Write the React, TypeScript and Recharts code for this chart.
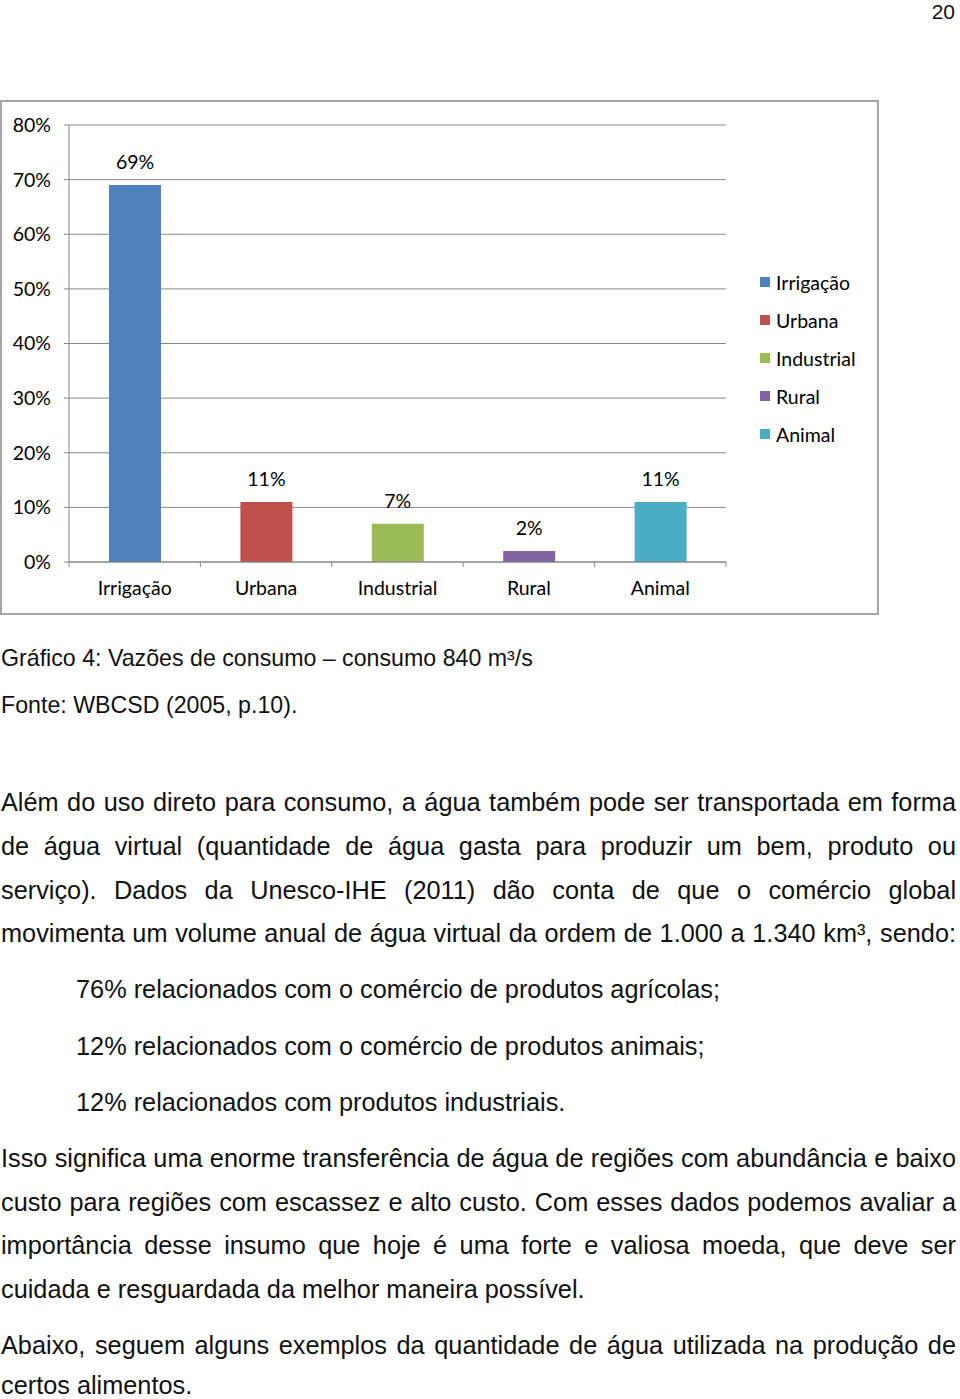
import React from 'react';
import { BarChart, Bar, XAxis, YAxis, CartesianGrid, Legend, LabelList, Cell } from 'recharts';

const categories = ['Irrigação', 'Urbana', 'Industrial', 'Rural', 'Animal'];
const shares = [69, 11, 7, 2, 11];
const colors = ['#4f81bd', '#c0504d', '#9bbb59', '#8064a2', '#4bacc6'];
const yTicks = [0, 10, 20, 30, 40, 50, 60, 70, 80];

const data = categories.map((name, i) => ({ name, value: shares[i] }));

const CHART_FONT = 'Lato, "Open Sans", sans-serif';
const TEXT_FONT = '"Liberation Sans", Arial, sans-serif';
const GRID = '#888888';
const STEP = 657 / categories.length;

const CategoryTick = (props: any) => {
  const { x, y, payload, index } = props;
  const left = x - STEP / 2;
  return (
    <g>
      <line x1={left} y1={y} x2={left} y2={y + 5} stroke={GRID} />
      {index === categories.length - 1 && (
        <line x1={x + STEP / 2} y1={y} x2={x + STEP / 2} y2={y + 5} stroke={GRID} />
      )}
      <text x={x} y={y + 33} textAnchor="middle" fill="#000" fontSize={19.5} fontFamily={CHART_FONT}>
        {payload.value}
      </text>
    </g>
  );
};

const renderLegend = () => (
  <div style={{ fontFamily: CHART_FONT, fontSize: 19.5, color: '#000' }}>
    {categories.map((c, i) => (
      <div key={c} style={{ height: 38, display: 'flex', alignItems: 'center' }}>
        <span style={{ width: 10, height: 10, background: colors[i], display: 'inline-block', marginRight: 6 }} />
        <span>{c}</span>
      </div>
    ))}
  </div>
);

type Line = { text: string; y: number; x?: number; size?: number; justify?: boolean };

const lines: Line[] = [
  { text: 'Gráfico 4: Vazões de consumo – consumo 840 m³/s', y: 658, size: 23.2 },
  { text: 'Fonte: WBCSD (2005, p.10).', y: 705, size: 23.2 },
  { text: 'Além do uso direto para consumo, a água também pode ser transportada em forma', y: 802, justify: true },
  { text: 'de água virtual (quantidade de água gasta para produzir um bem, produto ou', y: 846, justify: true },
  { text: 'serviço). Dados da Unesco-IHE (2011) dão conta de que o comércio global', y: 890, justify: true },
  { text: 'movimenta um volume anual de água virtual  da ordem de 1.000 a 1.340 km³, sendo:', y: 933, justify: true },
  { text: '76% relacionados com o comércio de produtos agrícolas;', y: 989, x: 76 },
  { text: '12% relacionados com o comércio de produtos animais;', y: 1046, x: 76 },
  { text: '12% relacionados com produtos industriais.', y: 1102, x: 76 },
  { text: 'Isso significa uma enorme transferência de água de regiões com abundância e baixo', y: 1158, justify: true },
  { text: 'custo para regiões com escassez e alto custo. Com esses dados podemos avaliar a', y: 1202, justify: true },
  { text: 'importância desse insumo que hoje é uma forte e valiosa moeda, que deve ser', y: 1245, justify: true },
  { text: 'cuidada e resguardada da melhor maneira possível.', y: 1289 },
  { text: 'Abaixo, seguem alguns exemplos da quantidade de água utilizada na produção de', y: 1345, justify: true },
  { text: 'certos alimentos.', y: 1385 },
];

export default function App() {
  return (
    <div style={{ position: 'absolute', left: 0, top: 0, width: 960, height: 1399, background: '#fff', overflow: 'hidden' }}>
      <div style={{ position: 'absolute', right: 5, top: 0, lineHeight: '24px', fontFamily: TEXT_FONT, fontSize: 21, color: '#111' }}>20</div>

      <div
        style={{
          position: 'absolute',
          left: 0,
          top: 100,
          width: 879,
          height: 515,
          border: '2px solid #a5a5a5',
          boxSizing: 'border-box',
        }}
      >
        <BarChart width={875} height={511} data={data} margin={{ top: 23, right: 151, left: 0, bottom: 0 }}>
          <CartesianGrid vertical={false} stroke={GRID} />
          <XAxis
            dataKey="name"
            height={51}
            interval={0}
            tickSize={0}
            tickMargin={0}
            tickLine={false}
            axisLine={{ stroke: GRID }}
            tick={<CategoryTick />}
          />
          <YAxis
            width={67}
            domain={[0, 80]}
            ticks={yTicks}
            interval={0}
            tickFormatter={(v: number) => `${v}%`}
            tickSize={5}
            tickMargin={13}
            axisLine={{ stroke: GRID }}
            tickLine={{ stroke: GRID }}
            tick={{ fill: '#000', fontSize: 19.5, fontFamily: CHART_FONT }}
          />
          <Legend
            layout="vertical"
            align="center"
            verticalAlign="middle"
            content={renderLegend}
            wrapperStyle={{ left: 758, top: 161, width: 115 }}
          />
          <Bar dataKey="value" barSize={52} isAnimationActive={false}>
            {data.map((d, i) => (
              <Cell key={d.name} fill={colors[i]} />
            ))}
            <LabelList
              dataKey="value"
              position="top"
              offset={16}
              formatter={(v: any) => `${v}%`}
              style={{ fill: '#000', fontSize: 19.5, fontFamily: CHART_FONT }}
            />
          </Bar>
        </BarChart>
      </div>

      {lines.map((l) => (
        <div
          key={l.y}
          style={{
            position: 'absolute',
            left: l.x ?? 1,
            top: l.y - 16,
            width: l.justify ? 955 : undefined,
            whiteSpace: l.justify ? undefined : 'nowrap',
            lineHeight: '32px',
            fontFamily: TEXT_FONT,
            fontSize: l.size ?? 25.3,
            color: '#111',
            textAlign: l.justify ? 'justify' : 'left',
            textAlignLast: l.justify ? 'justify' : undefined,
          }}
        >
          {l.text}
        </div>
      ))}
    </div>
  );
}
